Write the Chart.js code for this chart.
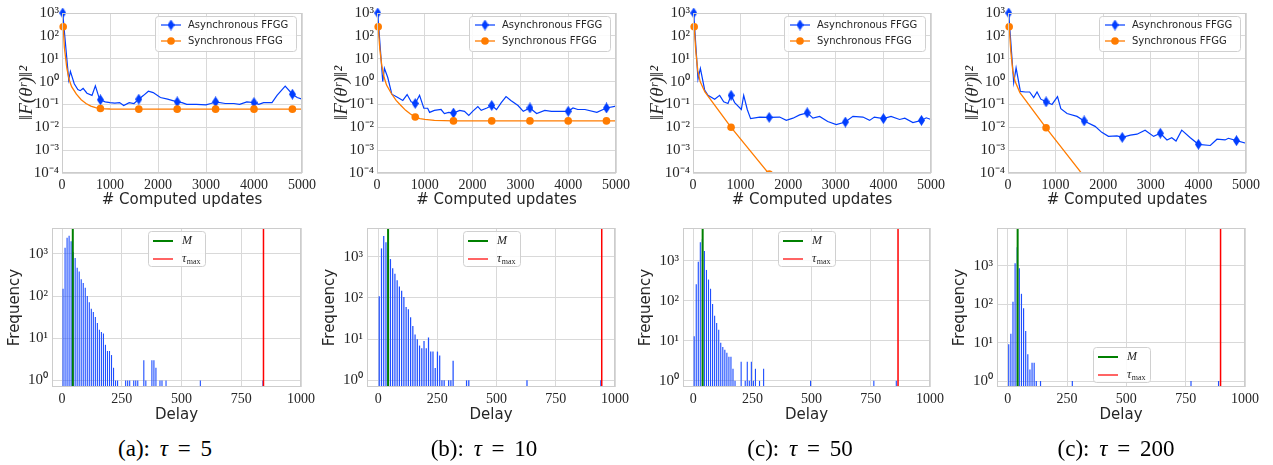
<!DOCTYPE html>
<html>
<head>
<meta charset="utf-8">
<script src="https://cdn.jsdelivr.net/npm/chart.js"></script>
<style>
body { margin: 0; background: #fff; width: 1273px; height: 465px; position: relative; overflow: hidden; }
canvas { position: absolute; }
.cap { position: absolute; top: 436px; line-height: 25px; font: 23px "Liberation Serif", serif; word-spacing: 4px; color: #000; transform: translateX(-50%); white-space: nowrap; }
</style>
</head>
<body>
<script>
// ---- top row: squared residual vs computed updates ----
var updatesAsyncA = [15, 140, 175, 255, 330, 380, 440, 520, 625, 695, 765, 800, 900, 1000, 1100, 1200, 1285, 1400, 1500, 1600, 1700, 1800, 1900, 2050, 2200, 2400, 2500, 2600, 2800, 3000, 3100, 3200, 3400, 3580, 3700, 3850, 4000, 4100, 4200, 4375, 4480, 4650, 4800, 4900, 5000];
var lossAsyncA = [1000, 1.2, 2.8, 0.8, 0.45, 0.4, 0.5, 0.31, 0.25, 0.65, 0.22, 0.16, 0.13, 0.12, 0.115, 0.12, 0.09, 0.12, 0.11, 0.17, 0.25, 0.38, 0.33, 0.2, 0.17, 0.13, 0.12, 0.1, 0.1, 0.095, 0.11, 0.13, 0.11, 0.11, 0.1, 0.13, 0.12, 0.1, 0.12, 0.12, 0.25, 0.63, 0.28, 0.2, 0.17];
var updatesSyncA = [25, 50, 100, 150, 200, 300, 400, 500, 600, 700, 800, 1000, 1600, 2400, 3200, 4000, 4800, 5000];
var lossSyncA = [250, 30, 4, 1.2, 0.6, 0.28, 0.16, 0.11, 0.085, 0.072, 0.066, 0.063, 0.062, 0.062, 0.062, 0.062, 0.062, 0.062];

var updatesAsyncB = [15, 120, 155, 225, 310, 435, 540, 630, 715, 800, 890, 980, 1060, 1100, 1200, 1340, 1410, 1500, 1600, 1730, 1830, 1920, 2000, 2110, 2180, 2300, 2400, 2500, 2600, 2700, 2800, 2950, 3060, 3200, 3340, 3510, 3650, 3790, 4000, 4100, 4200, 4350, 4600, 4800, 5000];
var lossAsyncB = [1000, 1.0, 3.8, 1.5, 0.28, 0.2, 0.15, 0.27, 0.13, 0.11, 0.25, 0.068, 0.068, 0.045, 0.055, 0.06, 0.04, 0.045, 0.042, 0.055, 0.05, 0.033, 0.05, 0.08, 0.055, 0.07, 0.09, 0.06, 0.12, 0.22, 0.15, 0.09, 0.05, 0.07, 0.04, 0.055, 0.05, 0.05, 0.05, 0.07, 0.06, 0.06, 0.045, 0.07, 0.085];
var updatesSyncB = [25, 60, 100, 150, 200, 300, 400, 500, 600, 700, 800, 900, 1000, 1200, 1600, 2400, 3200, 4000, 4800, 5000];
var lossSyncB = [250, 25, 5, 1.5, 0.7, 0.3, 0.15, 0.09, 0.055, 0.038, 0.028, 0.024, 0.022, 0.02, 0.019, 0.019, 0.019, 0.019, 0.019, 0.019];

var updatesAsyncC = [15, 105, 155, 245, 315, 455, 560, 645, 735, 800, 875, 1015, 1065, 1140, 1210, 1400, 1600, 1820, 1960, 2100, 2240, 2400, 2520, 2660, 2830, 3010, 3200, 3360, 3570, 3710, 3810, 4000, 4160, 4340, 4450, 4620, 4800, 4900, 5000];
var lossAsyncC = [1000, 1.3, 3.8, 0.43, 0.25, 0.17, 0.25, 0.13, 0.11, 0.25, 0.12, 0.06, 0.25, 0.06, 0.024, 0.028, 0.027, 0.028, 0.02, 0.025, 0.035, 0.043, 0.025, 0.03, 0.018, 0.013, 0.017, 0.03, 0.028, 0.02, 0.028, 0.024, 0.03, 0.022, 0.025, 0.016, 0.02, 0.026, 0.022];
var updatesSyncC = [25, 60, 100, 150, 250, 800, 1600, 2400];
var lossSyncC = [250, 20, 3, 1.0, 0.35, 0.01, 0.00009, 0.0000008];

var updatesAsyncD = [15, 120, 170, 260, 365, 455, 540, 610, 690, 800, 925, 1040, 1110, 1240, 1450, 1600, 1830, 1970, 2110, 2290, 2400, 2570, 2710, 2880, 3060, 3200, 3340, 3440, 3530, 3650, 3830, 4000, 4250, 4390, 4560, 4630, 4800, 5000];
var lossAsyncD = [1000, 0.9, 4, 0.37, 0.35, 0.35, 0.2, 0.35, 0.17, 0.13, 0.1, 0.22, 0.065, 0.04, 0.03, 0.019, 0.011, 0.006, 0.004, 0.0042, 0.0036, 0.0045, 0.005, 0.0075, 0.004, 0.0055, 0.0028, 0.0035, 0.0025, 0.0075, 0.0035, 0.0018, 0.0016, 0.003, 0.0028, 0.0033, 0.0026, 0.002];
var updatesSyncD = [25, 60, 100, 150, 250, 800, 1600, 2400];
var lossSyncD = [250, 20, 3, 1.0, 0.33, 0.0095, 0.00007, 0.0000005];

var updateTicks = [0, 1000, 2000, 3000, 4000, 5000];
var lossTicks = [1e-4, 1e-3, 1e-2, 1e-1, 1, 10, 100, 1000];

// ---- bottom row: delay histograms (bin index -> count) ----
var binWidth = [8.45, 9.45, 8.62, 8.93];
var countsA = [150, 1400, 2400, 2700, 2000, 1100, 800, 470, 380, 250, 205, 157, 100, 71, 50, 42, 32, 23, 16, 14, 13, 7, 5, 5, 4, 2, 1, 1];
var tailBinsA = [31, 32, 33, 35, 36, 37, 40, 41, 44, 45, 46, 48, 49, 51, 68, 99];
var tailCountsA = [1, 1, 1, 1, 1, 1, 3, 1, 3, 3, 2, 1, 1, 1, 1, 1];
var countsB = [110, 1600, 3200, 2250, 1600, 880, 530, 390, 270, 190, 150, 105, 60, 53, 34, 21, 13, 10, 7, 6, 9, 6, 11, 5, 5, 2, 5, 4, 1, 1];
var tailBinsB = [31, 32, 33, 39, 40, 66, 99];
var tailCountsB = [1, 1, 3, 1, 1, 1, 1];
var countsC = [13, 260, 950, 2900, 3500, 1750, 590, 340, 200, 83, 42, 28, 19, 9, 7, 6, 5, 4, 4, 2, 1];
var tailBinsC = [23, 25, 26, 27, 28, 29, 30, 32, 34, 57, 88, 99];
var tailCountsC = [3, 1, 3, 1, 3, 1, 2, 1, 2, 1, 1, 1];
var countsD = [9, 17, 115, 1150, 3000, 850, 185, 78, 20, 5, 2, 3, 3];
var tailBinsD = [13, 15, 30, 86, 99];
var tailCountsD = [1, 1, 1, 1, 1];
var delayM = [45, 42, 40, 42];
var delayMax = [843, 944, 865, 897];
var delayTicks = [0, 250, 500, 750, 1000];
var freqTicks = [1, 10, 100, 1000, 10000];

var captionLetters = ['(a)', '(b)', '(c)', '(c)'];
var captionTaus = [5, 10, 50, 200];

// ---- look ----
var asyncColor = '#023eff';
var syncColor = '#ff7c00';
var gridColor = '#d9d9d9';
var frameColor = '#cccccc';
var textColor = '#262626';
var tickFont = {family: 'Liberation Serif', size: 14};
var yTickFont = {family: 'Liberation Serif', size: 15};
var labelFont = {family: 'DejaVu Sans', size: 15};

var topLeft = [62, 377, 693, 1008], topRight = [302, 616, 931, 1246];
var botLeft = [52, 367, 683, 997], botRight = [301, 615, 930, 1245];
var botXMin = [-42, -47, -43, -45];
var botYMin = [0.73, 0.69, 0.72, 0.7], botYMax = [4100, 5000, 6600, 9500];
var botLegendPlace = ['upper center', 'upper center', 'upper center', 'lower center'];
var captionX = [165, 484, 800, 1116];

var SUP = {'-': '⁻', '0': '⁰', '1': '¹', '2': '²', '3': '³', '4': '⁴'};
function pow10(v) {
  return '10' + String(Math.round(Math.log10(v))).split('').map(function (c) { return SUP[c]; }).join('');
}

// thin diamond marker like matplotlib 'd'
var diamond = document.createElement('canvas');
diamond.width = 7; diamond.height = 11;
(function () {
  var c = diamond.getContext('2d');
  c.fillStyle = asyncColor;
  c.beginPath(); c.moveTo(3.5, 0); c.lineTo(7, 5.5); c.lineTo(3.5, 11); c.lineTo(0, 5.5); c.closePath(); c.fill();
})();

function makeCanvas(left, top, w, h) {
  var c = document.createElement('canvas');
  c.width = w; c.height = h;
  c.style.left = left + 'px'; c.style.top = top + 'px';
  c.style.width = w + 'px'; c.style.height = h + 'px';
  document.body.appendChild(c);
  return c;
}

var framePlugin = {
  id: 'frame',
  afterDatasetsDraw: function (chart) {
    var a = chart.chartArea, ctx = chart.ctx;
    ctx.save();
    ctx.strokeStyle = frameColor; ctx.lineWidth = 1;
    ctx.strokeRect(Math.round(a.left) + 0.5, Math.round(a.top) + 0.5, Math.round(a.right - a.left) - 1, Math.round(a.bottom - a.top) - 1);
    ctx.restore();
  }
};

var boxLegend = {
  id: 'boxLegend',
  afterDraw: function (chart, args, o) {
    var a = chart.chartArea, ctx = chart.ctx;
    var w = o.width, h = o.height;
    var x = o.place === 'upper right' ? a.right - w - 6 : Math.round((a.left + a.right - w) / 2);
    var y = o.place === 'lower center' ? a.bottom - h - 5 : a.top + 3;
    ctx.save();
    ctx.fillStyle = 'rgba(255,255,255,0.85)';
    ctx.strokeStyle = '#d0d0d0';
    ctx.lineWidth = 1;
    ctx.beginPath();
    if (ctx.roundRect) ctx.roundRect(x + 0.5, y + 0.5, w, h, 3); else ctx.rect(x + 0.5, y + 0.5, w, h);
    ctx.fill(); ctx.stroke();
    o.items.forEach(function (it, k) {
      var cy = y + o.first + k * o.step;
      var x0 = x + o.lineStart, x1 = x0 + o.lineLen;
      ctx.strokeStyle = it.color; ctx.lineWidth = it.lw;
      ctx.beginPath(); ctx.moveTo(x0, cy); ctx.lineTo(x1, cy); ctx.stroke();
      var mx = (x0 + x1) / 2;
      if (it.marker === 'diamond') ctx.drawImage(diamond, mx - 3.5, cy - 5.5);
      if (it.marker === 'circle') {
        ctx.fillStyle = it.color; ctx.beginPath(); ctx.arc(mx, cy, 3.8, 0, Math.PI * 2); ctx.fill();
      }
      ctx.fillStyle = textColor;
      ctx.textBaseline = 'middle';
      ctx.font = it.font;
      ctx.fillText(it.text, x + o.textStart, cy);
      if (it.sub) {
        var tw = ctx.measureText(it.text).width;
        ctx.font = it.subFont;
        ctx.fillText(it.sub, x + o.textStart + tw + 0.5, cy + 3);
      }
    });
    ctx.restore();
  }
};

function isMarked(c) {
  var p = c.raw;
  return p && (c.dataIndex === 0 || p.x % 800 === 0);
}

function points(xs, ys) {
  return xs.map(function (x, k) { return {x: x, y: ys[k]}; });
}

function topChart(i, ax, ay, sx, sy) {
  var L = topLeft[i], R = topRight[i];
  var cv = makeCanvas(L - 62, 0, R - L + 80, 215);
  new Chart(cv, {
    type: 'line',
    data: {
      datasets: [
        {
          label: 'Synchronous FFGG', data: points(sx, sy),
          borderColor: syncColor, backgroundColor: syncColor, borderWidth: 1.3,
          pointStyle: 'circle', pointRadius: function (c) { return isMarked(c) ? 3.8 : 0; },
          pointBorderWidth: 0, pointBackgroundColor: syncColor,
          tension: 0, clip: {left: 8, top: 8, right: 8, bottom: 0}
        },
        {
          label: 'Asynchronous FFGG', data: points(ax, ay),
          borderColor: asyncColor, backgroundColor: asyncColor, borderWidth: 1.2,
          pointStyle: diamond, pointRadius: function (c) { return isMarked(c) ? 4 : 0; },
          tension: 0, clip: {left: 8, top: 8, right: 8, bottom: 0}
        }
      ]
    },
    options: {
      responsive: false, animation: false, events: [],
      layout: {padding: {top: 13, right: 18, bottom: 0, left: 0}},
      plugins: {
        legend: {display: false}, tooltip: {enabled: false},
        boxLegend: {
          place: 'upper right', width: 141, height: 35, first: 9, step: 16,
          lineStart: 6, lineLen: 20, textStart: 33,
          items: [
            {text: 'Asynchronous FFGG', color: asyncColor, lw: 1.2, marker: 'diamond', font: '10px "DejaVu Sans"'},
            {text: 'Synchronous FFGG', color: syncColor, lw: 1.3, marker: 'circle', font: '10px "DejaVu Sans"'}
          ]
        }
      },
      scales: {
        x: {
          type: 'linear', min: 0, max: 5000,
          afterBuildTicks: function (s) { s.ticks = updateTicks.map(function (v) { return {value: v}; }); },
          afterFit: function (s) { s.height = 42; },
          grid: {color: gridColor, drawTicks: false},
          border: {display: false},
          ticks: {font: tickFont, color: textColor, padding: 4, maxRotation: 0, autoSkip: false,
                  callback: function (v) { return String(v); }},
          title: {display: true, text: '# Computed updates', font: labelFont, color: textColor, padding: {top: 0, bottom: 6}}
        },
        y: {
          type: 'logarithmic', min: 1e-4, max: 1e3,
          afterBuildTicks: function (s) { s.ticks = lossTicks.map(function (v) { return {value: v}; }); },
          afterFit: function (s) { s.width = 62; },
          grid: {color: gridColor, drawTicks: false},
          border: {display: false},
          ticks: {font: yTickFont, color: textColor, padding: 3, autoSkip: false, callback: pow10},
          title: {display: true, text: '‖F(θʳ)‖²', font: {family: 'Liberation Serif', size: 19, style: 'italic'},
                  color: textColor, padding: {top: 16, bottom: 0}}
        }
      }
    },
    plugins: [framePlugin, boxLegend]
  });
}

function botChart(i, counts, tailBins, tailCounts) {
  var L = botLeft[i], R = botRight[i];
  var w = binWidth[i];
  var bars = counts.map(function (c, k) { return {x: (k + 0.5) * w, y: c}; })
    .concat(tailBins.map(function (b, k) { return {x: (b + 0.5) * w, y: tailCounts[k]}; }));
  var cv = makeCanvas(L - 53, 215, R - L + 71, 215);
  new Chart(cv, {
    type: 'bar',
    data: {
      datasets: [
        {type: 'line', label: 'M', data: [{x: delayM[i], y: 0.01}, {x: delayM[i], y: 1e6}],
         borderColor: '#008000', borderWidth: 2, pointRadius: 0, order: 0},
        {type: 'line', label: 'tau_max', data: [{x: delayMax[i], y: 0.01}, {x: delayMax[i], y: 1e6}],
         borderColor: '#ff0000', borderWidth: 1.5, pointRadius: 0, order: 0},
        {type: 'bar', label: 'delays', data: bars, backgroundColor: '#1f4fff', borderWidth: 0,
         barPercentage: 0.55, categoryPercentage: 1, order: 1}
      ]
    },
    options: {
      responsive: false, animation: false, events: [],
      layout: {padding: {top: 8, right: 18, bottom: 0, left: 0}},
      plugins: {
        legend: {display: false}, tooltip: {enabled: false},
        boxLegend: {
          place: botLegendPlace[i], width: 57, height: 35, first: 10, step: 18,
          lineStart: 5, lineLen: 20, textStart: 34,
          items: [
            {text: 'M', color: '#008000', lw: 2, font: 'italic 12px "Liberation Serif"'},
            {text: 'τ', sub: 'max', color: '#ff3030', lw: 1.5, font: 'italic 12px "Liberation Serif"', subFont: '8px "Liberation Serif"'}
          ]
        }
      },
      scales: {
        x: {
          type: 'linear', min: botXMin[i], max: 1000, offset: false,
          afterBuildTicks: function (s) { s.ticks = delayTicks.map(function (v) { return {value: v}; }); },
          afterFit: function (s) { s.height = 43; },
          grid: {color: gridColor, drawTicks: false, offset: false},
          border: {display: false},
          ticks: {font: tickFont, color: textColor, padding: 4, maxRotation: 0, autoSkip: false,
                  callback: function (v) { return String(v); }},
          title: {display: true, text: 'Delay', font: labelFont, color: textColor, padding: {top: 0, bottom: 6}}
        },
        y: {
          type: 'logarithmic', min: botYMin[i], max: botYMax[i],
          afterBuildTicks: function (s) {
            s.ticks = freqTicks.filter(function (v) { return v >= s.min && v <= s.max; }).map(function (v) { return {value: v}; });
          },
          afterFit: function (s) { s.width = 53; },
          grid: {color: gridColor, drawTicks: false},
          border: {display: false},
          ticks: {font: yTickFont, color: textColor, padding: 4, autoSkip: false, callback: pow10},
          title: {display: true, text: 'Frequency', font: labelFont, color: textColor, padding: {top: 7, bottom: 0}}
        }
      }
    },
    plugins: [framePlugin, boxLegend]
  });
}

topChart(0, updatesAsyncA, lossAsyncA, updatesSyncA, lossSyncA);
topChart(1, updatesAsyncB, lossAsyncB, updatesSyncB, lossSyncB);
topChart(2, updatesAsyncC, lossAsyncC, updatesSyncC, lossSyncC);
topChart(3, updatesAsyncD, lossAsyncD, updatesSyncD, lossSyncD);
botChart(0, countsA, tailBinsA, tailCountsA);
botChart(1, countsB, tailBinsB, tailCountsB);
botChart(2, countsC, tailBinsC, tailCountsC);
botChart(3, countsD, tailBinsD, tailCountsD);

captionLetters.forEach(function (l, k) {
  var d = document.createElement('div');
  d.className = 'cap';
  d.style.left = captionX[k] + 'px';
  d.innerHTML = l + ': <i>τ</i> = ' + captionTaus[k];
  document.body.appendChild(d);
});
</script>
</body>
</html>
